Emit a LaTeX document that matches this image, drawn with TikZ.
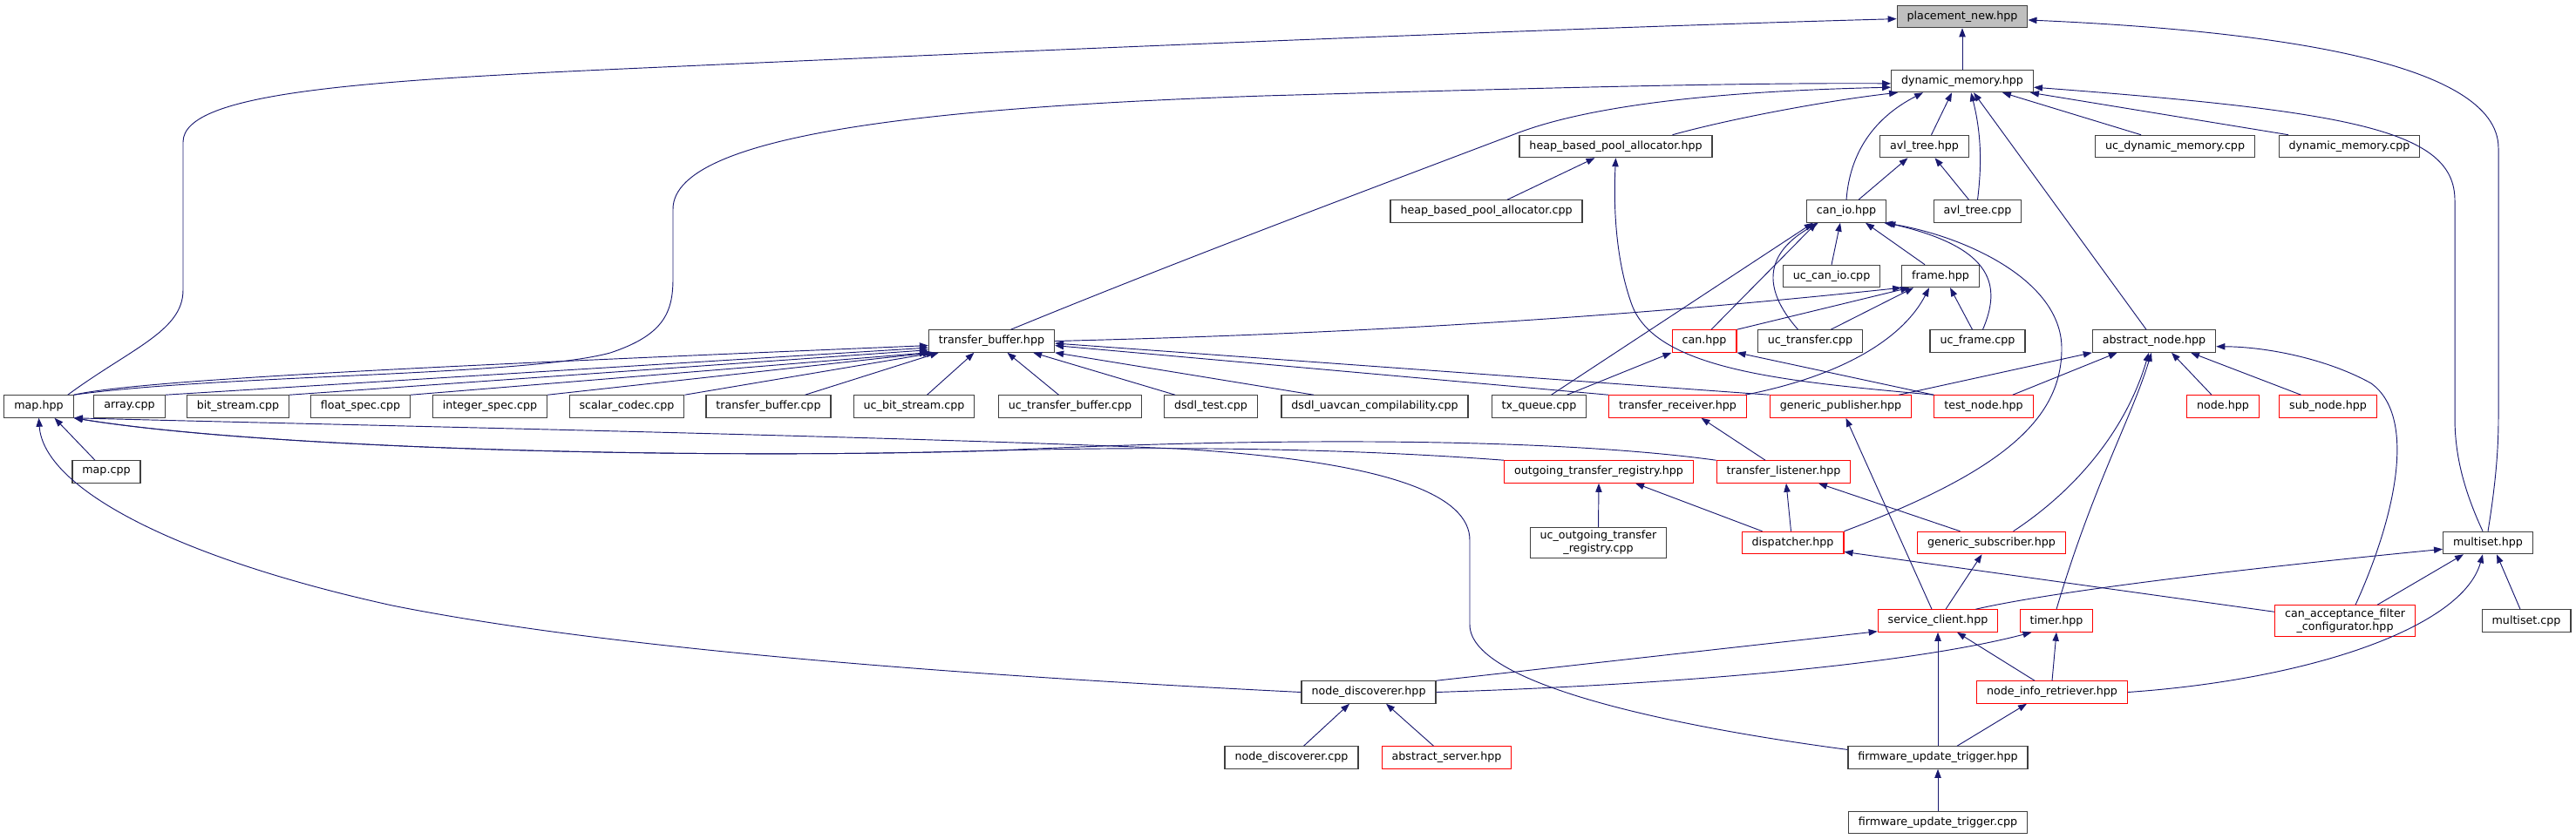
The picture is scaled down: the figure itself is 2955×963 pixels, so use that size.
\documentclass[tikz,border=0pt]{standalone}
\usepackage{fontspec}
\setmainfont{DejaVu Sans}
\usetikzlibrary{arrows.meta, calc}
\definecolor{edgeblue}{HTML}{191970}
\definecolor{rootgrey}{HTML}{BFBFBF}
\definecolor{boxline}{HTML}{404040}

\begin{document}
\begin{tikzpicture}[
  x=0.75pt, y=-0.75pt,
  filebox/.style={draw=boxline,line width=0.9pt,fill=white,rectangle,minimum height=19pt,inner xsep=8.6pt,inner ysep=3pt,align=center,font=\fontsize{9.5}{11}\selectfont},
  trunc/.style={filebox,draw=red}, % headers with hidden includers
  target/.style={filebox,fill=rootgrey},
  dep/.style={->,draw=edgeblue,line width=0.7pt},
  >={Triangle[length=7.5pt,width=5.5pt]}
]
\useasboundingbox (0,0) rectangle (2955,963);

% Nodes
\node[target] (pnew) at (2251,19) {placement\_new.hpp};
\node[filebox] (dynmem) at (2251,93) {dynamic\_memory.hpp};
\node[filebox] (hbpa) at (1853.5,168) {heap\_based\_pool\_allocator.hpp};
\node[filebox] (avlh) at (2207.5,168) {avl\_tree.hpp};
\node[filebox] (ucdyn) at (2495,168) {uc\_dynamic\_memory.cpp};
\node[filebox] (dyncpp) at (2695,168) {dynamic\_memory.cpp};
\node[filebox] (hbpacpp) at (1705,242.5) {heap\_based\_pool\_allocator.cpp};
\node[filebox] (canio) at (2118,242.5) {can\_io.hpp};
\node[filebox] (avlcpp) at (2268.5,242.5) {avl\_tree.cpp};
\node[filebox] (uccanio) at (2101,317) {uc\_can\_io.cpp};
\node[filebox] (frame) at (2226,317) {frame.hpp};
\node[filebox] (tbhpp) at (1137.5,391.5) {transfer\_buffer.hpp};
\node[trunc] (canh) at (1955,391.5) {can.hpp};
\node[filebox] (uctrans) at (2076.5,391.5) {uc\_transfer.cpp};
\node[filebox] (ucframe) at (2268.5,391.5) {uc\_frame.cpp};
\node[filebox] (absnode) at (2471,391.5) {abstract\_node.hpp};

\node[filebox] (map) at (44.5,466.5) {map.hpp};
\node[filebox] (array) at (148.5,466.5) {array.cpp};
\node[filebox] (bitstr) at (273,466.5) {bit\_stream.cpp};
\node[filebox] (floatspec) at (413.5,466.5) {float\_spec.cpp};
\node[filebox] (intspec) at (562,466.5) {integer\_spec.cpp};
\node[filebox] (scalar) at (719,466.5) {scalar\_codec.cpp};
\node[filebox] (tbcpp) at (881.5,466.5) {transfer\_buffer.cpp};
\node[filebox] (ucbit) at (1048.5,466.5) {uc\_bit\_stream.cpp};
\node[filebox] (uctb) at (1227.5,466.5) {uc\_transfer\_buffer.cpp};
\node[filebox] (dsdltest) at (1389,466.5) {dsdl\_test.cpp};
\node[filebox] (dsdluav) at (1577,466.5) {dsdl\_uavcan\_compilability.cpp};
\node[filebox] (txq) at (1765.5,466.5) {tx\_queue.cpp};
\node[trunc] (trecv) at (1924.5,466.5) {transfer\_receiver.hpp};
\node[trunc] (genpub) at (2111.5,466.5) {generic\_publisher.hpp};
\node[trunc] (tnode) at (2275.5,466.5) {test\_node.hpp};
\node[trunc] (nodeh) at (2550,466.5) {node.hpp};
\node[trunc] (subnode) at (2670.5,466.5) {sub\_node.hpp};

\node[filebox] (mapcpp) at (122,541.5) {map.cpp};
\node[trunc] (outreg) at (1834,541.5) {outgoing\_transfer\_registry.hpp};
\node[trunc] (tlisten) at (2046,541.5) {transfer\_listener.hpp};
\node[filebox] (ucoutreg) at (1833.5,623) {uc\_outgoing\_transfer\\\_registry.cpp};
\node[trunc] (dispatcher) at (2056.5,623) {dispatcher.hpp};
\node[trunc] (gensub) at (2284.5,623) {generic\_subscriber.hpp};
\node[filebox] (multiset) at (2854,623) {multiset.hpp};
\node[trunc] (svcclient) at (2223,712.5) {service\_client.hpp};
\node[trunc] (timer) at (2359,712.5) {timer.hpp};
\node[trunc] (canaccept) at (2690,712.5) {can\_acceptance\_filter\\\_configurator.hpp};
\node[filebox] (msetcpp) at (2898,712.5) {multiset.cpp};
\node[filebox] (nodedisc) at (1570,794.5) {node\_discoverer.hpp};
\node[trunc] (nodeinfo) at (2354,794.5) {node\_info\_retriever.hpp};
\node[filebox] (ndcpp) at (1481.5,869.5) {node\_discoverer.cpp};
\node[trunc] (absserver) at (1659.5,869.5) {abstract\_server.hpp};
\node[filebox] (fwhpp) at (2223,869.5) {firmware\_update\_trigger.hpp};
\node[filebox] (fwcpp) at (2223,944) {firmware\_update\_trigger.cpp};

% Connections
% placement_new.hpp
\draw[dep] (dynmem) -- (pnew);
\draw[dep] ($(map.north east)+(-7,0)$) .. controls (150,400) and (210,380) .. (210,333) -- (210,163) .. controls (210,105) and (420,92) .. (760,77) .. controls (1200,57) and (1800,32) .. (pnew.182);
\draw[dep] (multiset.north) .. controls (2862,560) and (2866,520) .. (2866,480) -- (2866,170) .. controls (2866,70) and (2600,35) .. (pnew.-3);

% dynamic_memory.hpp
\draw[dep] ($(multiset.north)+(-6,0)$) .. controls (2825,560) and (2816,520) .. (2816,480) -- (2816,230) .. controls (2816,150) and (2700,128) .. (dynmem.-5);
\draw[dep] (map.north east) .. controls (250,430) and (600,432) .. (700,405) .. controls (760,385) and (772,360) .. (772,320) -- (772,240) .. controls (772,150) and (1100,122) .. (1450,110) .. controls (1800,100) and (2000,95) .. (dynmem.182);
\draw[dep] ($(tbhpp.north)+(22,0)$) .. controls (1350,300) and (1550,225) .. (1740,153) .. controls (1850,111) and (2050,103) .. (dynmem.185);
\draw[dep] ($(hbpa.north)+(65,0)$) .. controls (1990,135) and (2100,115) .. ($(dynmem.south west)+(8,0)$);
\draw[dep] ($(avlh.north)+(8,0)$) -- ($(dynmem.south)+(-12,0)$);
\draw[dep] (canio.north) .. controls (2122,175) and (2150,135) .. ($(dynmem.south west)+(37,0)$);
\draw[dep] (avlcpp.north) .. controls (2274,185) and (2272,150) .. ($(dynmem.south)+(10,0)$);
\draw[dep] ($(absnode.north)+(-9,0)$) -- ($(dynmem.south)+(13,0)$);
\draw[dep] ($(ucdyn.north)+(-39,0)$) -- ($(dynmem.south east)+(-36,0)$);
\draw[dep] ($(dyncpp.north)+(-70,0)$) -- ($(dynmem.south east)+(-4,0)$);

% heap_based_pool_allocator.hpp, avl_tree.hpp
\draw[dep] ($(hbpacpp.north)+(24,0)$) -- ($(hbpa.south)+(-24,0)$);
\draw[dep] (tnode.north west) .. controls (2050,438) and (1900,425) .. (1872,350) .. controls (1852,295) and (1851,230) .. (hbpa.south);
\draw[dep] ($(canio.north)+(14,0)$) -- ($(avlh.south)+(-19,0)$);
\draw[dep] ($(avlcpp.north)+(-10,0)$) -- ($(avlh.south)+(12,0)$);

% can_io.hpp
\draw[dep] (uccanio.north) -- ($(canio.south)+(-7,0)$);
\draw[dep] ($(frame.north)+(-18,0)$) -- ($(canio.south)+(22,0)$);
\draw[dep] ($(canh.north)+(8,0)$) -- ($(canio.south west)+(12,0)$);
\draw[dep] ($(txq.north)+(14,0)$) -- ($(canio.south west)+(8,0)$);
\draw[dep] ($(uctrans.north)+(-14,0)$) .. controls (2020,330) and (2025,290) .. ($(canio.south west)+(14,0)$);
\draw[dep] ($(ucframe.north)+(6,0)$) .. controls (2295,330) and (2290,285) .. (canio.south east);
\draw[dep] (dispatcher.north east) .. controls (2300,540) and (2365,480) .. (2365,400) .. controls (2365,320) and (2250,270) .. ($(canio.south east)+(-3,0)$);

% frame.hpp
\draw[dep] (tbhpp.east) .. controls (1600,382) and (1900,360) .. (frame.south west);
\draw[dep] (canh.north east) -- ($(frame.south west)+(9,0)$);
\draw[dep] ($(uctrans.north east)+(-37,0)$) -- ($(frame.south west)+(14,0)$);
\draw[dep] ($(trecv.north east)+(-2,0)$) .. controls (2120,430) and (2185,385) .. ($(frame.south)+(-13,0)$);
\draw[dep] ($(ucframe.north)+(-6,0)$) -- ($(frame.south)+(11,0)$);

% can.hpp
\draw[dep] (tnode.north west) -- (canh.south east);
\draw[dep] ($(txq.north)+(32,0)$) -- (canh.south west);

% transfer_buffer.hpp
\draw[dep] (map.north east) .. controls (160,436) and (500,420) .. (tbhpp.184);
\draw[dep] (array.north east) -- (tbhpp.186);
\draw[dep] (bitstr.north east) -- (tbhpp.188);
\draw[dep] (floatspec.north east) -- (tbhpp.south west);
\draw[dep] (intspec.north east) -- ($(tbhpp.south west)+(4,0)$);
\draw[dep] (scalar.north east) -- ($(tbhpp.south west)+(8,0)$);
\draw[dep] ($(tbcpp.north)+(42,0)$) -- ($(tbhpp.south west)+(12,0)$);
\draw[dep] ($(ucbit.north)+(15,0)$) -- ($(tbhpp.south)+(-20,0)$);
\draw[dep] ($(uctb.north)+(-13,0)$) -- ($(tbhpp.south)+(18,0)$);
\draw[dep] ($(dsdltest.north)+(-41,0)$) -- ($(tbhpp.south east)+(-25,0)$);
\draw[dep] ($(dsdluav.north)+(-70,0)$) -- (tbhpp.south east);
\draw[dep] (trecv.north west) -- (tbhpp.-4);
\draw[dep] (genpub.north west) -- (tbhpp.-2);

% abstract_node.hpp
\draw[dep] ($(tnode.north east)+(-24,0)$) -- ($(absnode.south west)+(29,0)$);
\draw[dep] ($(genpub.north east)+(-15,0)$) -- (absnode.south west);
\draw[dep] ($(nodeh.north)+(-13,0)$) -- ($(absnode.south)+(20,0)$);
\draw[dep] ($(subnode.north)+(-31,0)$) -- ($(absnode.south)+(42,0)$);
\draw[dep] ($(gensub.north)+(25,0)$) .. controls (2385,560) and (2440,490) .. ($(absnode.south)+(-6,0)$);
\draw[dep] (timer.north) .. controls (2400,560) and (2445,480) .. ($(absnode.south)+(-3,0)$);
\draw[dep] ($(canaccept.north)+(12,0)$) .. controls (2745,600) and (2775,480) .. (2720,440) .. controls (2670,412) and (2600,398) .. (absnode.-5);

% map.hpp
\draw[dep] ($(mapcpp.north)+(-13,0)$) -- ($(map.south)+(18,0)$);
\draw[dep] (outreg.north west) .. controls (1550,515) and (1350,512) .. (1146,517) .. controls (800,528) and (300,515) .. (map.south east);
\draw[dep] (tlisten.north west) .. controls (1800,505) and (1500,500) .. (1146,517) .. controls (800,528) and (300,515) .. (map.south east);
\draw[dep] (fwhpp.175) .. controls (1950,838) and (1686,790) .. (1686,717) -- (1686,620) .. controls (1686,570) and (1600,530) .. (1350,515) .. controls (1000,500) and (400,488) .. (map.south east);
\draw[dep] (nodedisc.west) .. controls (1100,775) and (700,745) .. (450,695) .. controls (200,640) and (50,560) .. (map.south);

% transfer layer
\draw[dep] ($(tlisten.north)+(-21,0)$) -- ($(trecv.south)+(27,0)$);
\draw[dep] ($(dispatcher.north)+(-2,0)$) -- ($(tlisten.south)+(3,0)$);
\draw[dep] ($(gensub.north)+(-36,0)$) -- ($(tlisten.south)+(40,0)$);
\draw[dep] ($(dispatcher.north west)+(24,0)$) -- ($(outreg.south)+(42,0)$);
\draw[dep] (ucoutreg.north) -- (outreg.south);
\draw[dep] ($(canaccept.north west)+(0,8)$) -- (dispatcher.-10);

% multiset.hpp
\draw[dep] ($(msetcpp.north)+(-7,0)$) -- ($(multiset.south)+(10,0)$);
\draw[dep] ($(canaccept.north)+(37,0)$) -- ($(multiset.south)+(-28,0)$);
\draw[dep] ($(svcclient.north east)+(-26,0)$) .. controls (2350,680) and (2550,655) .. (multiset.188);
\draw[dep] (nodeinfo.east) .. controls (2650,780) and (2825,720) .. ($(multiset.south)+(-6,0)$);

% service_client.hpp, timer.hpp
\draw[dep] ($(svcclient.north)+(-7,0)$) -- ($(genpub.south)+(6,0)$);
\draw[dep] ($(svcclient.north)+(9,0)$) -- ($(gensub.south)+(-11,0)$);
\draw[dep] (nodedisc.north east) -- (svcclient.190);
\draw[dep] (nodedisc.east) .. controls (1950,785) and (2200,760) .. ($(timer.south west)+(14,0)$);
\draw[dep] ($(nodeinfo.north)+(-20,0)$) -- ($(svcclient.south)+(22,0)$);
\draw[dep] (nodeinfo.north) -- (timer.south);
\draw[dep] (fwhpp) -- (svcclient);
\draw[dep] ($(fwhpp.north)+(22,0)$) -- ($(nodeinfo.south)+(-29,0)$);
\draw[dep] (fwcpp) -- (fwhpp);

% node_discoverer.hpp
\draw[dep] ($(ndcpp.north)+(14,0)$) -- ($(nodedisc.south)+(-22,0)$);
\draw[dep] ($(absserver.north)+(-15,0)$) -- ($(nodedisc.south)+(20,0)$);

\end{tikzpicture}
\end{document}
